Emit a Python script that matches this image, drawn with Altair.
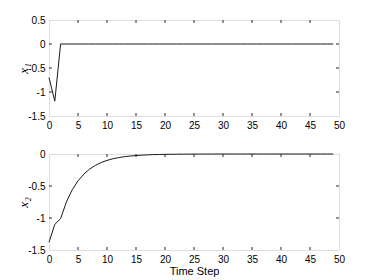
import altair as alt
import pandas as pd

steps = list(range(50))
x1_vals = [-0.70, -1.19, 0.0] + [0.0] * 47
x2_vals = [-1.38, -1.10, -1.01, -0.75, -0.56, -0.42, -0.315, -0.236, -0.177, -0.133,
           -0.100, -0.075, -0.056, -0.042, -0.032, -0.024, -0.018, -0.013, -0.010, -0.0075,
           -0.0056, -0.0042, -0.0032, -0.0024, -0.0018, -0.0013, -0.0010, -0.0008, -0.0006, -0.0004,
           -0.0003, -0.0002, -0.0002, -0.0001, -0.0001, 0.0, 0.0, 0.0, 0.0, 0.0,
           0.0, 0.0, 0.0, 0.0, 0.0, 0.0, 0.0, 0.0, 0.0, 0.0]
x_ticks = [0, 5, 10, 15, 20, 25, 30, 35, 40, 45, 50]
y1_ticks = [-1.5, -1.0, -0.5, 0.0, 0.5]
y2_ticks = [-1.5, -1.0, -0.5, 0.0]

W, H = 290, 96
AX = "#262626"
TK = 3


def panel(values, ydomain, yticks, ytitle, xtitle):
    df = pd.DataFrame({"t": steps, "v": values})
    xscale = alt.Scale(domain=[0, 50], nice=False, zero=False)
    yscale = alt.Scale(domain=ydomain, nice=False, zero=False)
    xaxis = alt.Axis(values=x_ticks, ticks=False, domain=False, grid=False,
                     labelPadding=4, labelExpr="toString(datum.value)",
                     labelOverlap=False, labelBound=False, labelFlush=False,
                     title=xtitle, titlePadding=1, titleFontWeight="normal")
    yaxis = alt.Axis(values=yticks, ticks=False, domain=False, grid=False,
                     labelPadding=4, labelExpr="toString(datum.value)",
                     labelOverlap=False, labelBound=False, labelFlush=False,
                     title=ytitle, titleFont="Liberation Serif", titleFontStyle="italic",
                     titleFontWeight="normal", titleFontSize=13,
                     titleX=-26, titleY=H / 2, titleBaseline="middle")
    line = alt.Chart(df).mark_line(color="#1a1a1a", strokeWidth=1).encode(
        x=alt.X("t:Q", scale=xscale, axis=xaxis),
        y=alt.Y("v:Q", scale=yscale, axis=yaxis),
    )
    xt = pd.DataFrame({"t": x_ticks[1:-1]})
    yt = pd.DataFrame({"v": yticks[1:-1]})
    xb = alt.Chart(xt).mark_rule(color=AX, strokeWidth=1).encode(
        x=alt.X("t:Q", scale=xscale, axis=xaxis), y=alt.value(H), y2=alt.value(H - TK))
    xtop = alt.Chart(xt).mark_rule(color=AX, strokeWidth=1).encode(
        x=alt.X("t:Q", scale=xscale, axis=xaxis), y=alt.value(0), y2=alt.value(TK))
    yl = alt.Chart(yt).mark_rule(color=AX, strokeWidth=1).encode(
        y=alt.Y("v:Q", scale=yscale, axis=yaxis), x=alt.value(0), x2=alt.value(TK))
    yr = alt.Chart(yt).mark_rule(color=AX, strokeWidth=1).encode(
        y=alt.Y("v:Q", scale=yscale, axis=yaxis), x=alt.value(W), x2=alt.value(W - TK))
    return alt.layer(line, xb, xtop, yl, yr).properties(width=W, height=H)


top = panel(x1_vals, [-1.5, 0.5], y1_ticks, "x₁", None)
bottom = panel(x2_vals, [-1.5, 0.0], y2_ticks, "x₂", "Time Step")

chart = alt.vconcat(top, bottom, spacing=17).properties(
    padding={"left": 8, "top": 6, "right": 5, "bottom": 0}
).configure_view(
    stroke=AX, strokeWidth=1
).configure_axis(
    labelFont="Liberation Sans", labelFontSize=8, labelColor=AX,
    titleFont="Liberation Sans", titleFontSize=9, titleColor=AX, titleFontWeight="normal",
).configure(background="white")

chart.save("out.html", embed_options={"renderer": "svg", "actions": False})
